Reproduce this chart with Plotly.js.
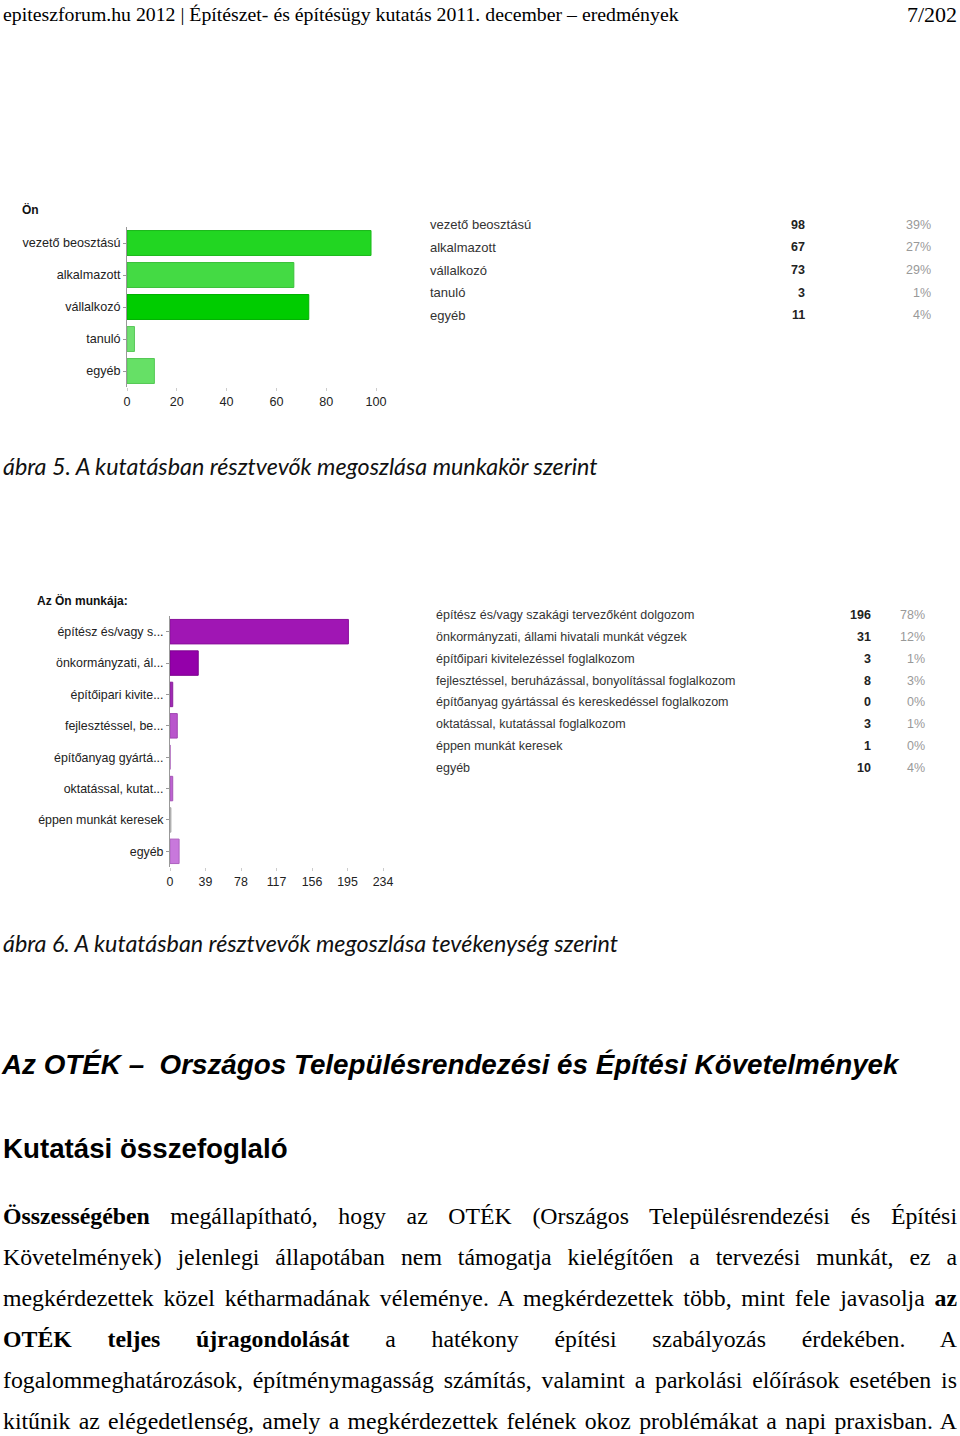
<!DOCTYPE html>
<html>
<head>
<meta charset="utf-8">
<script src="https://cdn.plot.ly/plotly-3.0.1.min.js"></script>
<style>
  html, body { margin: 0; padding: 0; background: #fff; }
  #page { position: relative; width: 960px; height: 1436px; overflow: hidden; }
  #chart { position: absolute; left: 0; top: 0; width: 960px; height: 1436px; }
  #para { position: absolute; left: 3px; top: 1196px; width: 954px;
          font-family: "Liberation Serif", "Times New Roman", serif; font-size: 23.8px; color: #000; }
  #para div { height: 41px; line-height: 41px; text-align: justify; text-align-last: justify; white-space: nowrap; }
</style>
</head>
<body>
<div id="page">
  <div id="chart"></div>
  <div id="para"></div>
</div>
<script>
// ---------- Data ----------
const headerText = "epiteszforum.hu 2012 | Építészet- és építésügy kutatás 2011. december – eredmények";
const pageNumber = "7/202";

const roleTitle = "Ön";
const roleLabels = ["vezető beosztású", "alkalmazott", "vállalkozó", "tanuló", "egyéb"];
const roleCounts = [98, 67, 73, 3, 11];
const rolePercents = ["39%", "27%", "29%", "1%", "4%"];
const roleTicks = [0, 20, 40, 60, 80, 100];
const roleCaption = "ábra 5. A kutatásban résztvevők megoszlása munkakör szerint";

const jobTitle = "Az Ön munkája:";
const jobShortLabels = ["építész és/vagy s...", "önkormányzati, ál...", "építőipari kivite...", "fejlesztéssel, be...",
                        "építőanyag gyártá...", "oktatással, kutat...", "éppen munkát keresek", "egyéb"];
const jobFullLabels = ["építész és/vagy szakági tervezőként dolgozom", "önkormányzati, állami hivatali munkát végzek",
                       "építőipari kivitelezéssel foglalkozom", "fejlesztéssel, beruházással, bonyolítással foglalkozom",
                       "építőanyag gyártással és kereskedéssel foglalkozom", "oktatással, kutatással foglalkozom",
                       "éppen munkát keresek", "egyéb"];
const jobCounts = [196, 31, 3, 8, 0, 3, 1, 10];
const jobPercents = ["78%", "12%", "1%", "3%", "0%", "1%", "0%", "4%"];
const jobTicks = [0, 39, 78, 117, 156, 195, 234];
const jobCaption = "ábra 6. A kutatásban résztvevők megoszlása tevékenység szerint";

const heading1 = "Az OTÉK –  Országos Településrendezési és Építési Követelmények";
const heading2 = "Kutatási összefoglaló";
const paragraphLines = [
  "<b>Összességében</b> megállapítható, hogy az OTÉK (Országos Településrendezési és Építési",
  "Követelmények) jelenlegi állapotában nem támogatja kielégítően a tervezési munkát, ez a",
  "megkérdezettek közel kétharmadának véleménye. A megkérdezettek több, mint fele javasolja <b>az</b>",
  "<b>OTÉK teljes újragondolását</b> a hatékony építési szabályozás érdekében. A",
  "fogalommeghatározások, építménymagasság számítás, valamint a parkolási előírások esetében is",
  "kitűnik az elégedetlenség, amely a megkérdezettek felének okoz problémákat a napi praxisban. A"
];

// ---------- Styles ----------
const roleColors = ["#22d622", "#44da44", "#00cc00", "#70e070", "#66e066"];
const roleLineColors = ["#1cb81c", "#39c039", "#00b000", "#5cc85c", "#55c855"];
const jobColors = ["#a016b4", "#9400aa", "#a02ab4", "#b955cc", "#c070d4", "#be64d2", "#c8c8c8", "#c878dc"];
const jobLineColors = ["#8a0f9c", "#7c008e", "#8a1f9c", "#a046b2", "#a85cb8", "#a454b6", "#aaaaaa", "#ae62c0"];

const W = 960, H = 1436;
const px = x => x / W;
const py = y => 1 - y / H;

const SANS = "Liberation Sans, Arial, sans-serif";
const AX1_FONT = { family: SANS, size: 12.6, color: "#222" };
const AX2_FONT = { family: SANS, size: 12.4, color: "#222" };

const traces = [
  {
    type: "bar", orientation: "h",
    x: roleCounts, y: roleLabels,
    xaxis: "x", yaxis: "y",
    marker: { color: roleColors, line: { color: roleLineColors, width: 1 } },
    hoverinfo: "x+y", showlegend: false
  },
  {
    type: "bar", orientation: "h",
    x: jobCounts, y: jobShortLabels,
    xaxis: "x2", yaxis: "y2",
    marker: { color: jobColors, line: { color: jobLineColors, width: 1 } },
    hoverinfo: "x+y", showlegend: false
  }
];

const annotations = [];
function addText(text, x, y, opts) {
  annotations.push(Object.assign({
    text: text, xref: "paper", yref: "paper", x: px(x), y: py(y),
    xanchor: "left", yanchor: "middle", showarrow: false
  }, opts || {}));
}

// header
addText(headerText, 1, 14, { font: { family: "Liberation Serif, Times New Roman, serif", size: 19.8, color: "#000" } });
addText(pageNumber, 959, 15, { xanchor: "right", font: { family: "Liberation Serif, Times New Roman, serif", size: 22, color: "#000" } });

// chart 1 title and table
addText("<b>" + roleTitle + "</b>", 20, 209, { font: { family: SANS, size: 12, color: "#111" } });
const roleRowY = [225, 247.5, 270, 292.5, 315];
roleLabels.forEach((lab, i) => {
  addText(lab, 428, roleRowY[i], { font: { family: SANS, size: 13, color: "#333" } });
  addText("<b>" + roleCounts[i] + "</b>", 807, roleRowY[i], { xanchor: "right", font: { family: SANS, size: 12.5, color: "#222" } });
  addText(rolePercents[i], 933, roleRowY[i], { xanchor: "right", font: { family: SANS, size: 12.5, color: "#999" } });
});
addText("<i>" + roleCaption + "</i>", 1, 466, { font: { family: "Lato, Open Sans, sans-serif", size: 23.3, color: "#111" } });

// chart 2 title and table
addText("<b>" + jobTitle + "</b>", 35, 600, { font: { family: SANS, size: 12, color: "#111" } });
const jobRowY = [615, 637, 659, 680.5, 702, 724, 746, 768];
jobFullLabels.forEach((lab, i) => {
  addText(lab, 434, jobRowY[i], { font: { family: SANS, size: 12.5, color: "#333" } });
  addText("<b>" + jobCounts[i] + "</b>", 873, jobRowY[i], { xanchor: "right", font: { family: SANS, size: 12.5, color: "#222" } });
  addText(jobPercents[i], 927, jobRowY[i], { xanchor: "right", font: { family: SANS, size: 12.5, color: "#999" } });
});
addText("<i>" + jobCaption + "</i>", 1, 943, { font: { family: "Lato, Open Sans, sans-serif", size: 23.3, color: "#111" } });

// headings
addText("<b><i>" + heading1 + "</i></b>", -1, 1064, { font: { family: SANS, size: 27.8, color: "#000" } });
addText("<b>" + heading2 + "</b>", 1, 1148, { font: { family: SANS, size: 27.7, color: "#000" } });

const layout = {
  width: W, height: H,
  margin: { l: 0, r: 0, t: 0, b: 0 },
  paper_bgcolor: "#fff", plot_bgcolor: "rgba(0,0,0,0)",
  showlegend: false,
  bargap: 0.22,
  font: AX1_FONT,
  xaxis: {
    domain: [px(127), px(376)], anchor: "y",
    range: [0, 100], tickvals: roleTicks, ticktext: roleTicks.map(String),
    showgrid: false, zeroline: false, showline: false,
    ticks: "outside", ticklen: 3, tickcolor: "#ccc", tickfont: AX1_FONT, fixedrange: true
  },
  yaxis: {
    domain: [py(387), py(227)], anchor: "x",
    type: "category", categoryorder: "array", categoryarray: roleLabels,
    autorange: "reversed",
    showgrid: false, zeroline: false, showline: true, linecolor: "#999", linewidth: 1,
    ticks: "outside", ticklen: 3, tickcolor: "#999", tickfont: AX1_FONT, fixedrange: true
  },
  xaxis2: {
    domain: [px(170), px(383)], anchor: "y2",
    range: [0, 234], tickvals: jobTicks, ticktext: jobTicks.map(String),
    showgrid: false, zeroline: false, showline: false,
    ticks: "outside", ticklen: 3, tickcolor: "#ccc", tickfont: AX2_FONT, fixedrange: true
  },
  yaxis2: {
    domain: [py(867), py(616)], anchor: "x2",
    type: "category", categoryorder: "array", categoryarray: jobShortLabels,
    autorange: "reversed",
    showgrid: false, zeroline: false, showline: true, linecolor: "#999", linewidth: 1,
    ticks: "outside", ticklen: 3, tickcolor: "#999", tickfont: AX2_FONT, fixedrange: true
  },
  annotations: annotations
};

Plotly.newPlot("chart", traces, layout, { displayModeBar: false, staticPlot: true });

// paragraph (justified body text)
const para = document.getElementById("para");
paragraphLines.forEach(line => {
  const d = document.createElement("div");
  d.innerHTML = line;
  para.appendChild(d);
});
</script>
</body>
</html>
